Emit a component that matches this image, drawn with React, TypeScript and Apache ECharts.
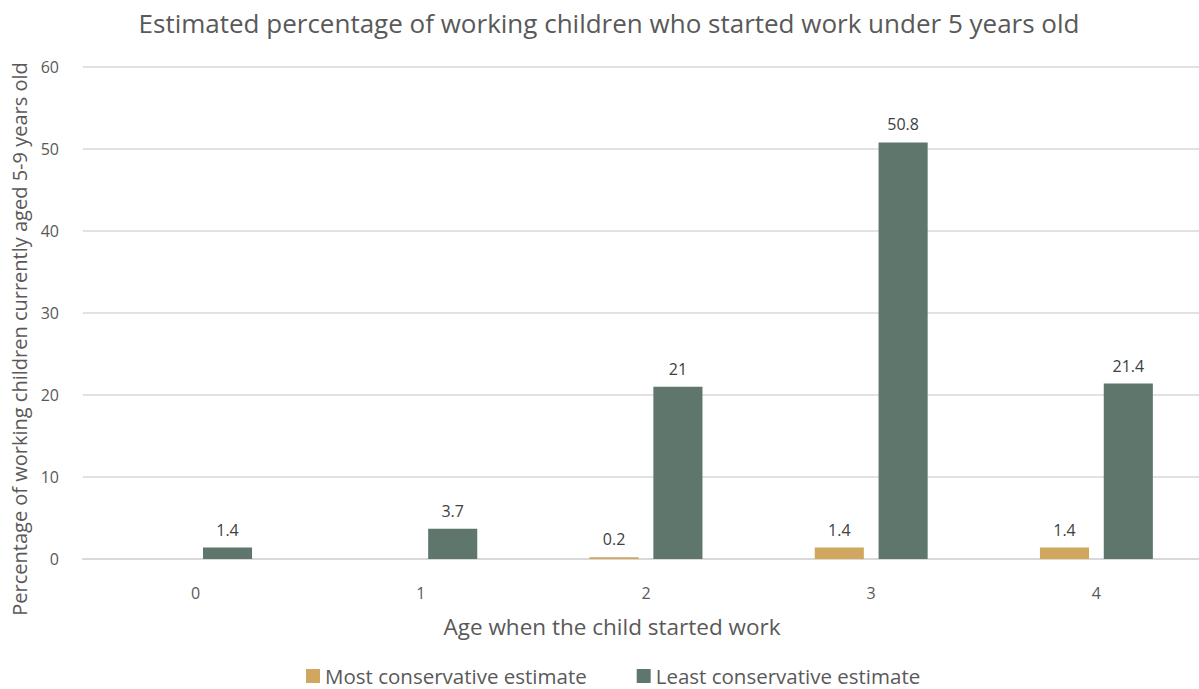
import React, { useEffect, useRef } from "react";
import * as echarts from "echarts";

const categories = ["0", "1", "2", "3", "4"];
const mostConservative: (number | null)[] = [null, null, 0.2, 1.4, 1.4];
const leastConservative: number[] = [1.4, 3.7, 21, 50.8, 21.4];
const seriesNames = ["Most conservative estimate", "Least conservative estimate"];
const titleText = "Estimated percentage of working children who started work under 5 years old";
const xAxisName = "Age when the child started work";
const yAxisName = "Percentage of working children currently aged 5-9 years old";

const FONT = "'Open Sans', sans-serif";
const GRAY = "#595959";

export default function App() {
  const ref = useRef<HTMLDivElement>(null);
  useEffect(() => {
    if (!ref.current) return;
    const chart = echarts.init(ref.current, null, { renderer: "svg" });
    const labelStyle = {
      show: true,
      position: "top" as const,
      distance: 10,
      color: "#404040",
      fontFamily: FONT,
      fontSize: 16,
    };
    chart.setOption({
      animation: false,
      backgroundColor: "#ffffff",
      textStyle: { fontFamily: FONT },
      title: {
        text: titleText,
        left: 604,
        textAlign: "center",
        top: 5,
        textStyle: { fontFamily: FONT, fontSize: 26, fontWeight: "normal", color: GRAY },
      },
      legend: {
        data: seriesNames,
        top: 665,
        left: 306,
        padding: 0,
        itemWidth: 14,
        itemHeight: 14,
        itemGap: 50,
        icon: "rect",
        textStyle: { fontFamily: FONT, fontSize: 20.5, color: GRAY, lineHeight: 22 },
      },
      grid: {
        left: 83,
        top: 67,
        width: 1126,
        height: 492,
        containLabel: false,
        outerBoundsMode: "none",
      },
      xAxis: {
        type: "category",
        data: categories,
        name: xAxisName,
        nameLocation: "middle",
        nameGap: 56,
        nameTextStyle: { fontFamily: FONT, fontSize: 22.5, color: GRAY, padding: [0, 68, 0, 0] },
        axisLine: { show: true, lineStyle: { color: "#d9d9d9", width: 2 } },
        axisTick: { show: false },
        axisLabel: { color: GRAY, fontFamily: FONT, fontSize: 16, margin: 26 },
      },
      yAxis: {
        type: "value",
        min: 0,
        max: 60,
        interval: 10,
        name: yAxisName,
        nameLocation: "middle",
        nameGap: 54,
        nameTextStyle: { fontFamily: FONT, fontSize: 20, color: GRAY, padding: [0, 52, 0, 0] },
        axisLine: { show: false },
        axisTick: { show: false },
        axisLabel: { color: GRAY, fontFamily: FONT, fontSize: 16, margin: 24 },
        splitLine: { lineStyle: { color: "#d9d9d9", width: 1.5 } },
      },
      series: [
        {
          name: seriesNames[0],
          type: "bar",
          data: mostConservative,
          barWidth: "21.8%",
          barGap: "30%",
          itemStyle: { color: "#D1A65E" },
          label: labelStyle,
        },
        {
          name: seriesNames[1],
          type: "bar",
          data: leastConservative,
          barWidth: "21.8%",
          barGap: "30%",
          itemStyle: { color: "#5E766C" },
          label: labelStyle,
        },
      ],
    });
    return () => chart.dispose();
  }, []);
  return (
    <div
      ref={ref}
      style={{ position: "absolute", left: 0, top: 0, width: 1199, height: 689 }}
    />
  );
}
